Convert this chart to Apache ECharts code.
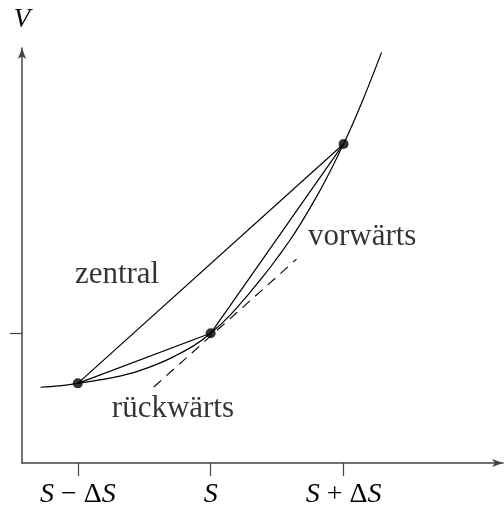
<!DOCTYPE html>
<html>
<head>
<meta charset="utf-8">
<script src="https://cdn.jsdelivr.net/npm/echarts@6/dist/echarts.min.js"></script>
<style>html,body{margin:0;padding:0;background:#fff}#c{width:504px;height:507px}</style>
</head>
<body>
<div id="c"></div>
<script>
// ---- data ----
var curveX = [36, 43, 50, 62, 73, 86.5, 100, 114.5, 129.5, 141, 150, 157, 164.3];
var curveV = [29.2, 29.7, 30.7, 32.7, 35.5, 41.2, 50, 65.4, 85.4, 104.8, 123, 139.3, 158.3];
var gridS = [50, 100, 150];          // S-ΔS, S, S+ΔS
var gridV = [30.7, 50, 123];         // V at those points
var tangentX = [78.6, 132.3];
var tangentV = [29.3, 78.6];
var tickLabels = ['S − ΔS', 'S', 'S + ΔS'];
var yTickValues = [50];
var annotNames = ['zentral', 'vorwärts', 'rückwärts'];
var annotX = [48.9, 136.6, 62.8];
var annotV = [72.6, 87.0, 20.8];

var SERIF = 'Liberation Serif';
function richLabel(s){
  var out = '', buf = '';
  for (var i = 0; i < s.length; i++){
    var ch = s[i];
    if (ch === 'S'){ if (buf){ out += '{n|' + buf + '}'; buf=''; } out += '{i|S}'; }
    else buf += ch;
  }
  if (buf) out += '{n|' + buf + '}';
  return out;
}
function pairs(xs, ys){ return xs.map(function(x,i){ return [x, ys[i]]; }); }

var lineStyle = {color:'#000', width:1.2};
var chart = echarts.init(document.getElementById('c'), null, {renderer:'canvas'});
chart.setOption({
  animation:false,
  grid:{left:22, top:48, width:481, height:415, containLabel:false, outerBoundsMode:'none'},
  xAxis:{
    type:'value', min:29, max:210,
    axisLine:{show:true, lineStyle:{color:'#444', width:1.5}, symbol:['none','arrow'], symbolSize:[6,11]},
    axisTick:{show:true, customValues:gridS, length:13, lineStyle:{color:'#444', width:1.2}},
    axisLabel:{show:true, customValues:gridS, margin:18,
      formatter:function(v){ var i = gridS.indexOf(v); return i>=0 ? richLabel(tickLabels[i]) : ''; },
      rich:{
        i:{fontFamily:SERIF, fontStyle:'italic', fontSize:28, color:'#000'},
        n:{fontFamily:SERIF, fontSize:28, color:'#000'}
      }},
    splitLine:{show:false}
  },
  yAxis:{
    type:'value', min:0, max:160,
    name:'V', nameLocation:'end', nameGap:15,
    nameTextStyle:{fontFamily:SERIF, fontStyle:'italic', fontSize:27, color:'#000', align:'center'},
    axisLine:{show:true, lineStyle:{color:'#444', width:1.5}, symbol:['none','arrow'], symbolSize:[6,11]},
    axisTick:{show:true, customValues:yTickValues, length:12, lineStyle:{color:'#444', width:1.2}},
    axisLabel:{show:false},
    splitLine:{show:false}
  },
  series:[
    {type:'line', data:pairs(curveX, curveV), smooth:0.4, showSymbol:false, lineStyle:lineStyle, z:3},
    {type:'line', data:[[gridS[0],gridV[0]],[gridS[2],gridV[2]]], showSymbol:false, lineStyle:lineStyle},
    {type:'line', data:[[gridS[0],gridV[0]],[gridS[1],gridV[1]]], showSymbol:false, lineStyle:lineStyle},
    {type:'line', data:[[gridS[1],gridV[1]],[gridS[2],gridV[2]]], showSymbol:false, lineStyle:lineStyle},
    {type:'line', data:pairs(tangentX, tangentV), showSymbol:false,
      lineStyle:{color:'#000', width:1.1, type:[10,7]}},
    {type:'scatter', data:pairs(gridS, gridV), symbol:'circle', symbolSize:10, itemStyle:{color:'#000'}, z:5},
    {type:'scatter', symbolSize:0, data:annotNames.map(function(n,i){ return {name:n, value:[annotX[i], annotV[i]]}; }),
      label:{show:true, position:'inside', align:'left', verticalAlign:'middle',
        formatter:function(p){ return p.name; },
        fontFamily:SERIF, fontSize:31, color:'#000'}}
  ]
});
</script>
</body>
</html>
